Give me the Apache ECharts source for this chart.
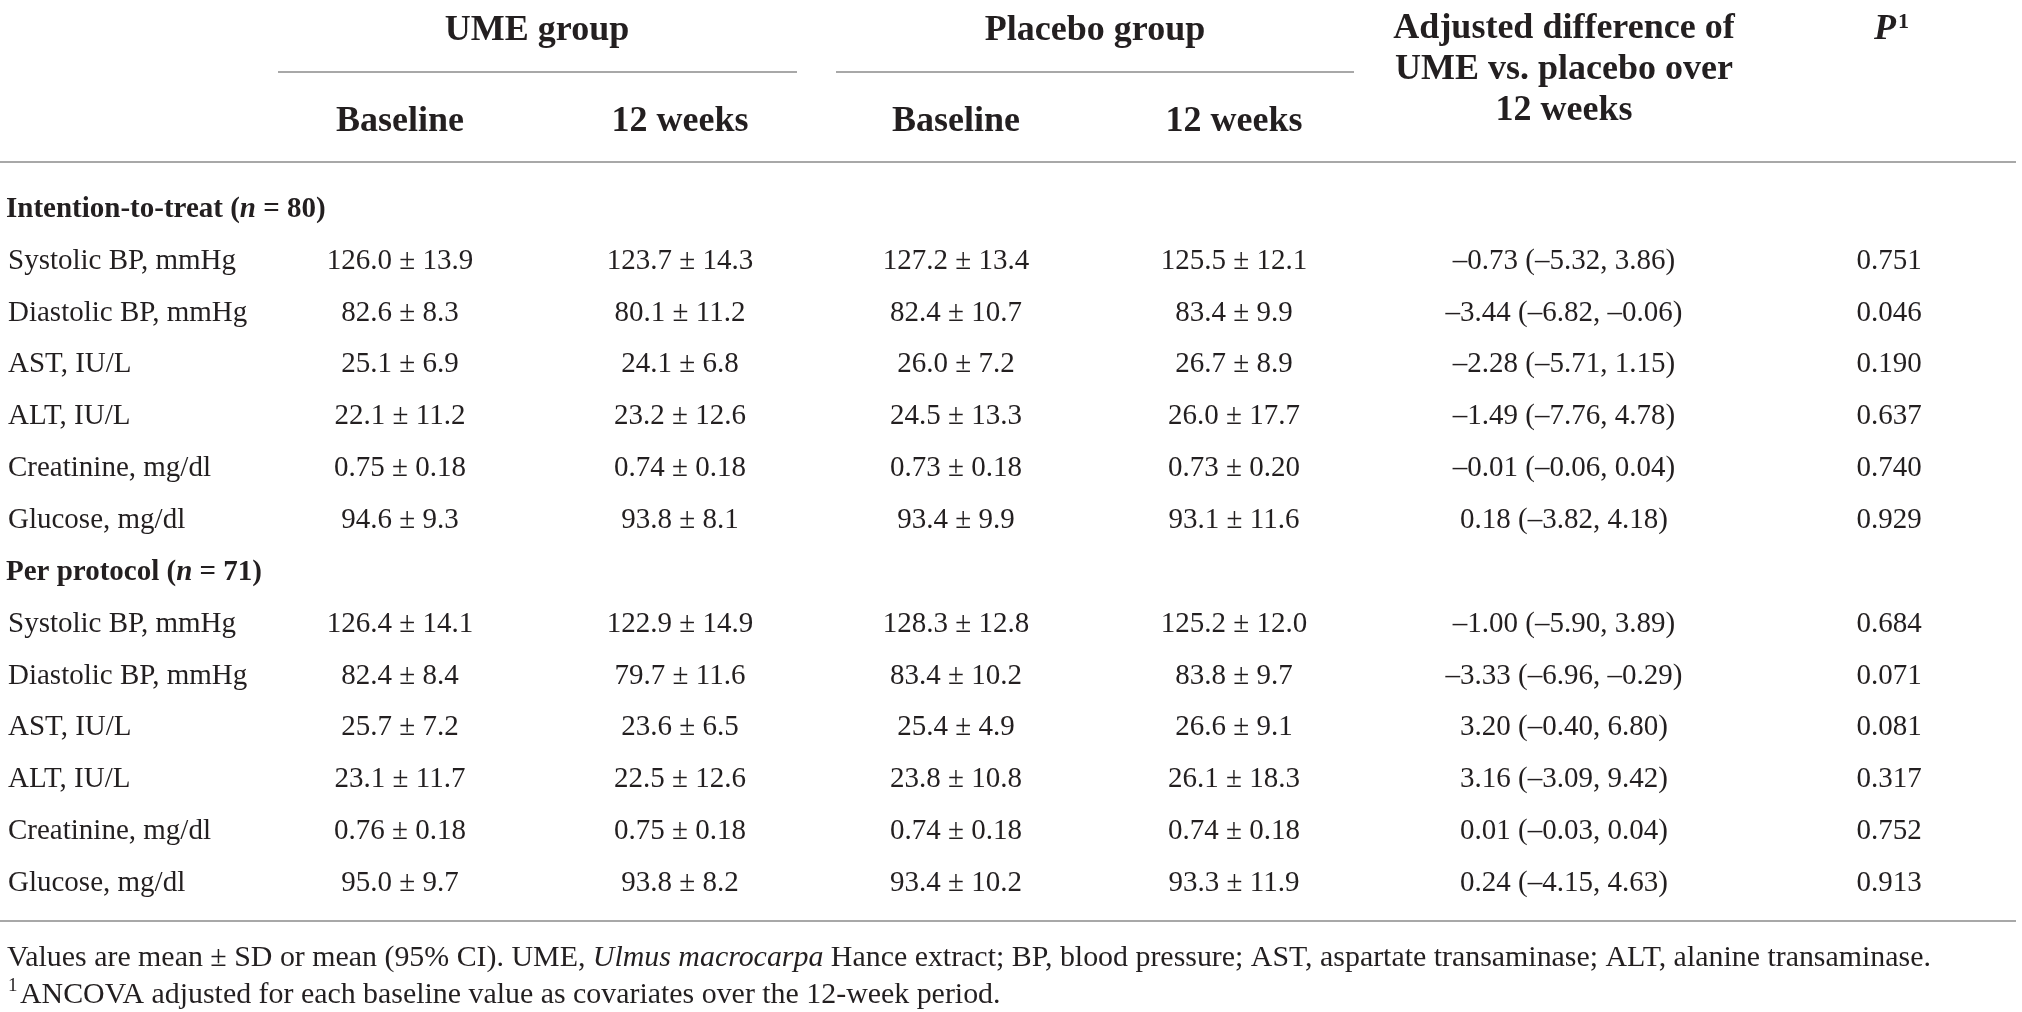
<!DOCTYPE html>
<html>
<head>
<meta charset="utf-8">
<script src="https://cdn.jsdelivr.net/npm/echarts@6/dist/echarts.min.js"></script>
<style>
html,body{margin:0;padding:0;background:#fff;}
#chart{width:2022px;height:1012px;}
</style>
</head>
<body>
<div id="chart"></div>
<script>
// ---------------- DATA ----------------
const sectionTitles = [
  { pre: 'Intention-to-treat (', it: 'n', post: ' = 80)' },
  { pre: 'Per protocol (', it: 'n', post: ' = 71)' }
];
const variables = ['Systolic BP, mmHg', 'Diastolic BP, mmHg', 'AST, IU/L', 'ALT, IU/L', 'Creatinine, mg/dl', 'Glucose, mg/dl'];
const decimals = [1, 1, 1, 1, 2, 1];

// Intention-to-treat: [mean, SD]
const ittUmeBaseline = [[126.0, 13.9], [82.6, 8.3], [25.1, 6.9], [22.1, 11.2], [0.75, 0.18], [94.6, 9.3]];
const ittUme12w = [[123.7, 14.3], [80.1, 11.2], [24.1, 6.8], [23.2, 12.6], [0.74, 0.18], [93.8, 8.1]];
const ittPlaceboBaseline = [[127.2, 13.4], [82.4, 10.7], [26.0, 7.2], [24.5, 13.3], [0.73, 0.18], [93.4, 9.9]];
const ittPlacebo12w = [[125.5, 12.1], [83.4, 9.9], [26.7, 8.9], [26.0, 17.7], [0.73, 0.20], [93.1, 11.6]];
// [estimate, lower CI, upper CI]
const ittAdjDiff = [[-0.73, -5.32, 3.86], [-3.44, -6.82, -0.06], [-2.28, -5.71, 1.15], [-1.49, -7.76, 4.78], [-0.01, -0.06, 0.04], [0.18, -3.82, 4.18]];
const ittP = [0.751, 0.046, 0.190, 0.637, 0.740, 0.929];

// Per protocol
const ppUmeBaseline = [[126.4, 14.1], [82.4, 8.4], [25.7, 7.2], [23.1, 11.7], [0.76, 0.18], [95.0, 9.7]];
const ppUme12w = [[122.9, 14.9], [79.7, 11.6], [23.6, 6.5], [22.5, 12.6], [0.75, 0.18], [93.8, 8.2]];
const ppPlaceboBaseline = [[128.3, 12.8], [83.4, 10.2], [25.4, 4.9], [23.8, 10.8], [0.74, 0.18], [93.4, 10.2]];
const ppPlacebo12w = [[125.2, 12.0], [83.8, 9.7], [26.6, 9.1], [26.1, 18.3], [0.74, 0.18], [93.3, 11.9]];
const ppAdjDiff = [[-1.00, -5.90, 3.89], [-3.33, -6.96, -0.29], [3.20, -0.40, 6.80], [3.16, -3.09, 9.42], [0.01, -0.03, 0.04], [0.24, -4.15, 4.63]];
const ppP = [0.684, 0.071, 0.081, 0.317, 0.752, 0.913];

const groupHeaders = ['UME group', 'Placebo group'];
const subHeaders = ['Baseline', '12 weeks', 'Baseline', '12 weeks'];
const diffHeader = ['Adjusted difference of', 'UME vs. placebo over', '12 weeks'];
const pHeader = { main: 'P', sup: '1' };
const footnote1 = { pre: 'Values are mean ± SD or mean (95% CI). UME, ', it: 'Ulmus macrocarpa', post: ' Hance extract; BP, blood pressure; AST, aspartate transaminase; ALT, alanine transaminase.' };
const footnote2 = { sup: '1', text: 'ANCOVA adjusted for each baseline value as covariates over the 12-week period.' };

// ---------------- LAYOUT / STYLE ----------------
const W = 2022, H = 1012;
const INK = '#231f20';
const RULE = '#a8a8a8';
const FAM = '"Liberation Serif", "Times New Roman", serif';
const BODY = 29, HEAD = 36, FOOT = 29.9;
const COL_X = [8, 400, 680, 956, 1234, 1564, 1889]; // label (left) + 6 centered columns

// ---------------- BUILD TABLE ----------------
function num(v, d) { return v.toFixed(d).replace('-', '\u2013'); }
function msd(pair, d) { return num(pair[0], d) + ' \u00b1 ' + num(pair[1], d); }
function ci(t) { return num(t[0], 2) + ' (' + num(t[1], 2) + ', ' + num(t[2], 2) + ')'; }

const sections = [
  { title: sectionTitles[0], cols: [ittUmeBaseline, ittUme12w, ittPlaceboBaseline, ittPlacebo12w], diff: ittAdjDiff, p: ittP },
  { title: sectionTitles[1], cols: [ppUmeBaseline, ppUme12w, ppPlaceboBaseline, ppPlacebo12w], diff: ppAdjDiff, p: ppP }
];

const rowNames = [];
const cells = []; // {col,row,text,kind}
sections.forEach(function (sec) {
  const tRow = rowNames.length;
  rowNames.push(sec.title.pre + sec.title.it + sec.title.post);
  cells.push({ col: 0, row: tRow, kind: 'title', text: sec.title.pre + '{i|' + sec.title.it + '}' + sec.title.post });
  variables.forEach(function (v, i) {
    const r = rowNames.length;
    rowNames.push(v);
    cells.push({ col: 0, row: r, kind: 'label', text: v });
    sec.cols.forEach(function (arr, c) {
      cells.push({ col: c + 1, row: r, kind: 'value', text: msd(arr[i], decimals[i]) });
    });
    cells.push({ col: 5, row: r, kind: 'value', text: ci(sec.diff[i]) });
    cells.push({ col: 6, row: r, kind: 'value', text: sec.p[i].toFixed(3) });
  });
});

// ---------------- CHART ----------------
const chart = echarts.init(document.getElementById('chart'), null, { renderer: 'canvas', width: W, height: H });

const ROW_H = 51.85, ROW_TOP = 209.25 - ROW_H / 2;
const gridBottom = H - (ROW_TOP + ROW_H * rowNames.length);

function txt(x, y, text, font, align, rich) {
  const s = { text: text, font: font, fill: INK, align: align || 'center', verticalAlign: 'middle' };
  if (rich) s.rich = rich;
  return { type: 'text', x: x, y: y, silent: true, style: s };
}
function hline(x1, x2, y) {
  return { type: 'line', silent: true, shape: { x1: x1, y1: y, x2: x2, y2: y }, style: { stroke: RULE, lineWidth: 2 } };
}

const graphics = [
  txt(537, 31, groupHeaders[0], 'bold ' + HEAD + 'px ' + FAM),
  txt(1095, 31, groupHeaders[1], 'bold ' + HEAD + 'px ' + FAM),
  hline(278, 797, 72),
  hline(836, 1354, 72),
  txt(COL_X[5], 28.5, diffHeader[0], 'bold ' + HEAD + 'px ' + FAM),
  txt(COL_X[5], 69.5, diffHeader[1], 'bold ' + HEAD + 'px ' + FAM),
  txt(COL_X[5], 110.5, diffHeader[2], 'bold ' + HEAD + 'px ' + FAM),
  txt(1885, 30, pHeader.main, 'italic bold ' + HEAD + 'px ' + FAM),
  txt(1898, 22, pHeader.sup, 'bold 22px ' + FAM, 'left'),
  hline(0, 2016, 162),
  hline(0, 2016, 921),
  txt(7, 958, footnote1.pre + '{i|' + footnote1.it + '}' + footnote1.post, FOOT + 'px ' + FAM, 'left',
      { i: { fontStyle: 'italic', fontSize: FOOT, fontFamily: FAM, color: INK } }),
  txt(8, 986, footnote2.sup, '19px ' + FAM, 'left'),
  txt(20, 995, footnote2.text, FOOT + 'px ' + FAM, 'left')
];
subHeaders.forEach(function (s, i) {
  graphics.push(txt(COL_X[i + 1], 122, s, 'bold ' + HEAD + 'px ' + FAM));
});

const option = {
  backgroundColor: '#ffffff',
  animation: false,
  grid: { left: 0, right: 0, top: ROW_TOP, bottom: gridBottom, containLabel: false },
  xAxis: { type: 'value', min: 0, max: W, show: false },
  yAxis: { type: 'category', data: rowNames.map(function (n, i) { return i; }), inverse: true, show: false, boundaryGap: true },
  graphic: graphics,
  series: [{
    type: 'custom',
    coordinateSystem: 'cartesian2d',
    silent: true,
    data: cells.map(function (c) { return [COL_X[c.col], c.row]; }),
    encode: { x: 0, y: 1 },
    renderItem: function (params, api) {
      const c = cells[params.dataIndex];
      const p = api.coord([api.value(0), api.value(1)]);
      const bold = c.kind === 'title';
      const style = {
        text: c.text,
        font: (bold ? 'bold ' : '') + BODY + 'px ' + FAM,
        fill: INK,
        align: c.col === 0 ? 'left' : 'center',
        verticalAlign: 'middle'
      };
      if (bold) {
        style.rich = { i: { fontStyle: 'italic', fontWeight: 'bold', fontSize: BODY, fontFamily: FAM, color: INK } };
      }
      return { type: 'text', x: c.col === 0 && bold ? p[0] - 2 : p[0], y: p[1], style: style };
    }
  }]
};
chart.setOption(option);
</script>
</body>
</html>
